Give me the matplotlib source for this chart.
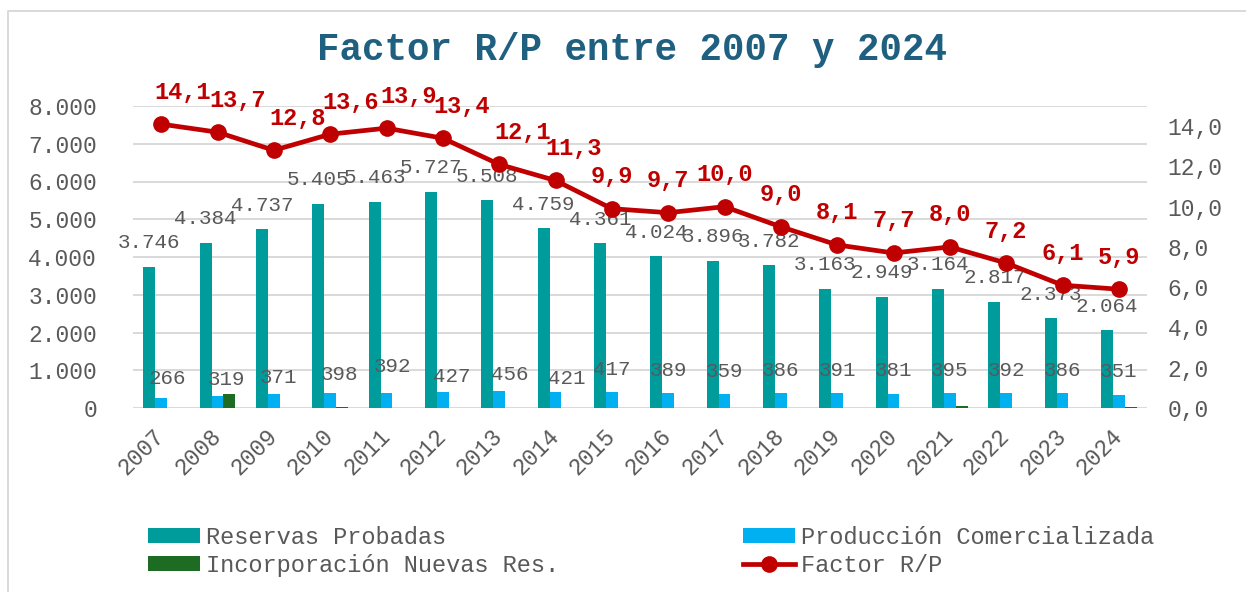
#bibliotecas
import numpy as np
import matplotlib.pyplot as plt
from matplotlib.lines import Line2D

plt.rcParams['font.family'] = ['Liberation Mono', 'DejaVu Sans Mono']

# datos
anios = ['2007', '2008', '2009', '2010', '2011', '2012', '2013', '2014', '2015',
         '2016', '2017', '2018', '2019', '2020', '2021', '2022', '2023', '2024']
reservas = [3746, 4384, 4737, 5405, 5463, 5727, 5508, 4759, 4361,
            4024, 3896, 3782, 3163, 2949, 3164, 2817, 2373, 2064]
produccion = [266, 319, 371, 398, 392, 427, 456, 421, 417,
              389, 359, 386, 391, 381, 395, 392, 386, 351]
incorporacion = [0, 380, 0, 20, 0, 0, 0, 0, 0,
                 0, 5, 5, 0, 0, 60, 5, 5, 15]
factor_rp = [14.1, 13.7, 12.8, 13.6, 13.9, 13.4, 12.1, 11.3, 9.9,
             9.7, 10.0, 9.0, 8.1, 7.7, 8.0, 7.2, 6.1, 5.9]

# colores
c_res = '#009B9B'
c_prod = '#00B0F0'
c_inc = '#1E6B23'
c_rp = '#C00000'
c_txt = '#595959'

# desplazamientos de etiquetas (pixeles), como en el original
dx_prod = [6, 9, 5, 9, 6, 9, 11, 11] + [0] * 10
dy_prod = [19, 16, 16, 18, 27, 15, 16, 14] + [23] * 10
dx_rp = [21, 20, 24, 20, 22, 19, 23, 18] + [0] * 10

def miles(v):
    return f'{v:,.0f}'.replace(',', '.')

def coma(v):
    return f'{v:.1f}'.replace('.', ',')

fig = plt.figure(figsize=(12.46, 5.92), dpi=100)
ax = fig.add_axes([133/1246, 1-408/592, (1147-133)/1246, (408-106)/592])
ax2 = ax.twinx()

x = np.arange(len(anios))
w = 0.21
b1 = ax.bar(x - w, reservas, w, color=c_res, label='Reservas Probadas', zorder=3)
b2 = ax.bar(x, produccion, w, color=c_prod, label='Producción Comercializada', zorder=3)
b3 = ax.bar(x + w, incorporacion, w, color=c_inc, label='Incorporación Nuevas Res.', zorder=3)

ax.set_ylim(0, 8000)
ax.set_yticks(np.arange(0, 8001, 1000))
ax.set_yticklabels([miles(v) for v in np.arange(0, 8001, 1000)])
ax.set_xlim(-0.5, len(anios) - 0.5)
ax.set_xticks(x)
ax.set_xticklabels(anios, rotation=45, ha='right', va='center',
                   rotation_mode='anchor')
ax.grid(axis='y', color='#D9D9D9', lw=1.4, zorder=0)
ax.tick_params(length=0, labelsize=16.5, labelcolor=c_txt)
ax.tick_params(axis='y', pad=26)
ax.tick_params(axis='x', pad=18)
for s in ax.spines.values():
    s.set_visible(False)

l1, = ax2.plot(x, factor_rp, color=c_rp, lw=3.4, marker='o', ms=11,
               label='Factor R/P', zorder=5)
ax2.set_ylim(0, 15)
ax2.set_yticks(np.arange(0, 15, 2))
ax2.set_yticklabels([coma(v) for v in np.arange(0, 15, 2)])
ax2.tick_params(length=0, labelsize=16.5, labelcolor=c_txt, pad=15)
for s in ax2.spines.values():
    s.set_visible(False)

# etiquetas
for i, v in enumerate(reservas):
    ax.annotate(miles(v), (x[i] - w, v), xytext=(0, 24),
                textcoords='offset pixels', ha='center', va='center',
                fontsize=15, color=c_txt, zorder=6)
for i, v in enumerate(produccion):
    ax.annotate(str(v), (x[i], v), xytext=(dx_prod[i], dy_prod[i]),
                textcoords='offset pixels', ha='center', va='center',
                fontsize=15, color=c_txt, zorder=6)
for i, v in enumerate(factor_rp):
    ax2.annotate(coma(v), (x[i], v), xytext=(dx_rp[i], 32),
                 textcoords='offset pixels', ha='center', va='center',
                 fontsize=17, fontweight='bold', color=c_rp, zorder=6)

fig.text(632/1246, 1-50/592, 'Factor R/P entre 2007 y 2024', ha='center',
         va='center', fontsize=27, fontweight='bold', color='#1F6080')

fig.legend([b1, b3, b2, l1],
           ['Reservas Probadas', 'Incorporación Nuevas Res.',
            'Producción Comercializada', 'Factor R/P'],
           ncol=2, loc='upper left', bbox_to_anchor=(148/1246, 1-526/592),
           frameon=False, fontsize=17, labelcolor=c_txt, handlelength=2.2,
           handleheight=0.6, handletextpad=0.25, columnspacing=7.8,
           labelspacing=0.2, borderpad=0, borderaxespad=0)

# borde del grafico (solo se ve arriba e izquierda)
fig.add_artist(Line2D([8/1246, 8/1246, 1], [0, 1-11/592, 1-11/592],
                      transform=fig.transFigure, color='#D9D9D9', lw=1.4))

plt.savefig('out.png', dpi=100)
